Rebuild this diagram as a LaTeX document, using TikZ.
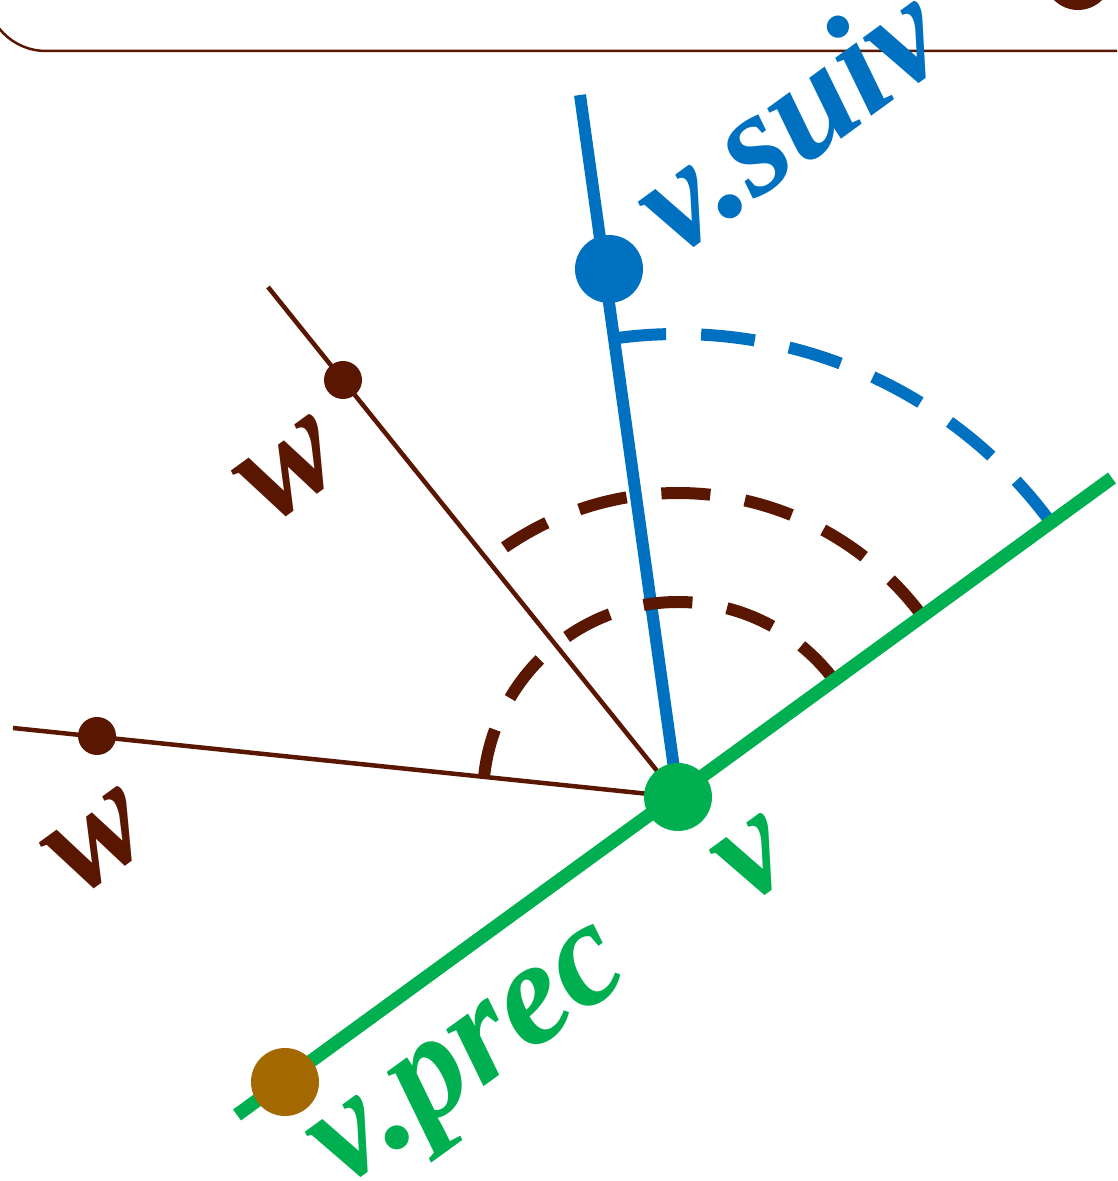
\documentclass[tikz,border=0pt]{standalone}
\usepackage{fontspec}
\setmainfont{Liberation Serif}
\usetikzlibrary{calc}
\definecolor{vertv}{RGB}{0, 176, 80}
\definecolor{bleusuiv}{RGB}{0, 112, 192}
\definecolor{brunw}{RGB}{89, 22, 0}
\definecolor{orprec}{RGB}{163, 104, 0}

\tikzset{
  gros/.style={circle, inner sep=0pt, minimum size=68pt},
  petit/.style={circle, fill=brunw, inner sep=0pt, minimum size=38pt},
  etiq/.style={font=\fontsize{148}{160}\selectfont\bfseries\itshape,
               rotate=36, anchor=base, inner sep=0pt},
  pointille/.style={line width=12pt, dash pattern=on 49pt off 35pt}
}

\begin{document}
\begin{tikzpicture}[x=1pt, y=1pt]
  \useasboundingbox (0,0) rectangle (1117,1181);
  \clip (0,0) rectangle (1117,1181);

  % cadre du haut (coupé)
  \draw[brunw, line width=2.5pt]
    (-14,1260) -- (-14,1190) arc[start angle=180, end angle=270, radius=60] -- (1140,1130);
  \node[gros, fill=brunw] (haut) at (1078,1205) {};

  % sommets
  \coordinate (finprec) at (237,66);
  \coordinate (finv) at (1112,703);
  \coordinate (finsuiv) at (580,1086);
  \coordinate (finwa) at (13,453);
  \coordinate (finwb) at (268,894);
  \coordinate (v0) at (678,384);

  % demi-droites vers les w
  \draw[brunw, line width=4.5pt] (finwa) -- (v0);
  \draw[brunw, line width=4.5pt] (finwb) -- (v0);

  % v.suiv
  \draw[bleusuiv, line width=12pt] (finsuiv) -- (v0);

  % angles (pointillés)
  \draw[brunw, pointille]
    ($(v0)+(36.4:195)$) arc[start angle=36.4, end angle=174, radius=195];
  \draw[brunw, pointille]
    ($(v0)+(36.4:304)$) arc[start angle=36.4, end angle=128.7, radius=304];
  \draw[bleusuiv, pointille, dash pattern=on 54pt off 35pt]
    ($(v0)+(36.4:463)$) arc[start angle=36.4, end angle=97.9, radius=463];

  % droite (v.prec, v)
  \draw[vertv, line width=13.5pt] (finprec) -- (finv);

  % points
  \node[petit] (wa) at (97,445) {};
  \node[petit] (wb) at (343,801) {};
  \node[gros, fill=bleusuiv] (suiv) at (609,912) {};
  \node[gros, fill=orprec] (prec) at (285,99) {};
  \node[gros, fill=vertv] (v) at (v0) {};

  % étiquettes
  \node[etiq, bleusuiv] (lsuiv) at (816,1024) {v.suiv};
  \node[etiq, vertv] (lprec) at (489,98) {v.prec};
  \node[etiq, vertv] (lv) at (774,294) {v};
  \node[etiq, brunw] (lwa) at (118,312) {w};
  \node[etiq, brunw] (lwb) at (310,684) {w};

\end{tikzpicture}
\end{document}
